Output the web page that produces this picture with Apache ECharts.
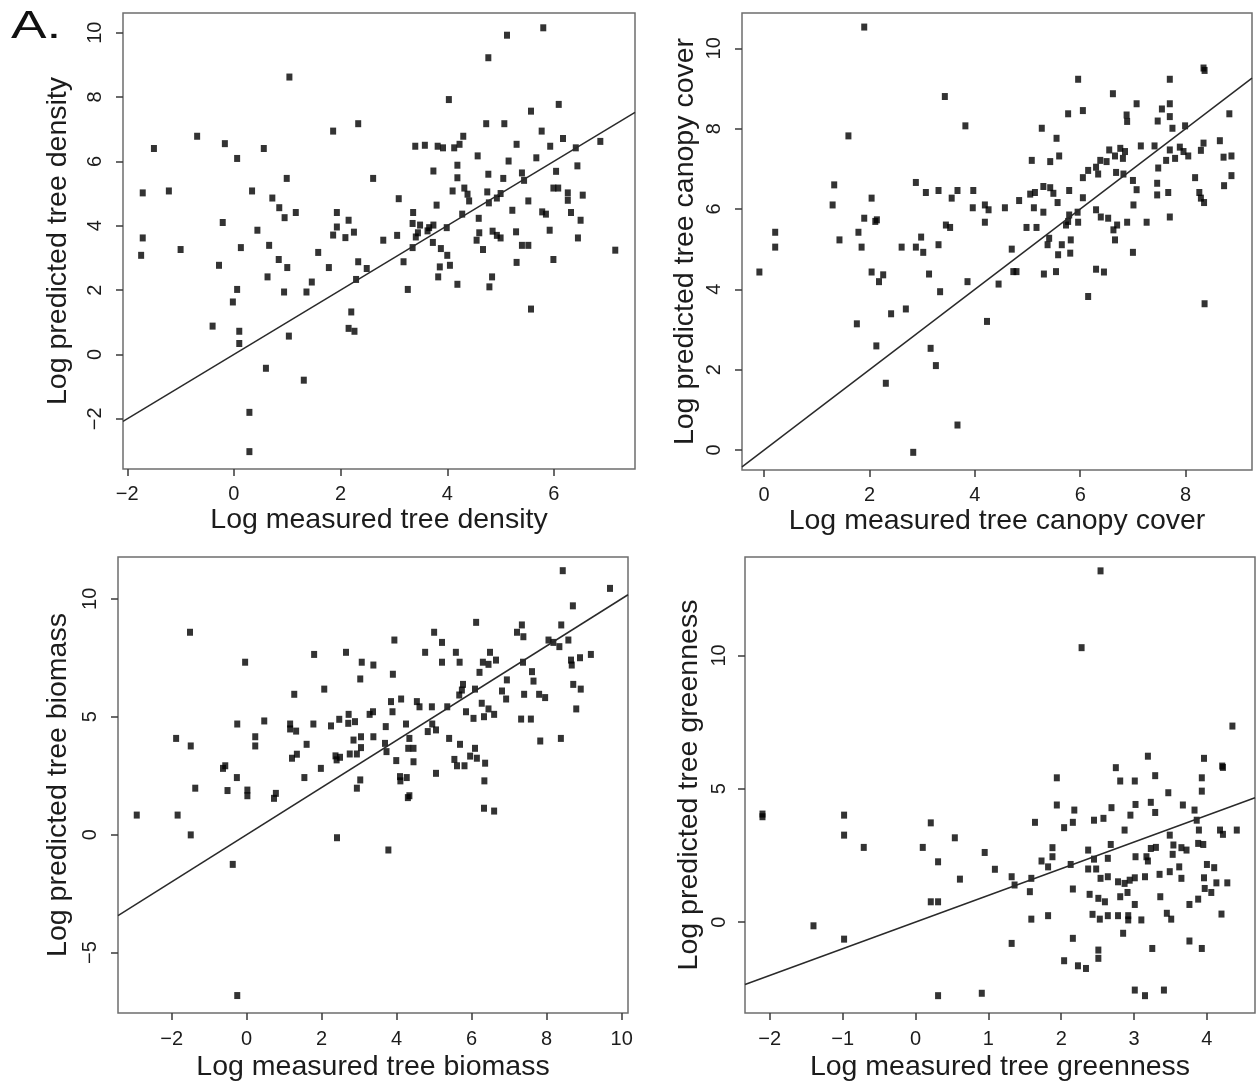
<!DOCTYPE html>
<html>
<head>
<meta charset="utf-8">
<title>Measured vs predicted tree attributes</title>
<script src="https://cdn.jsdelivr.net/npm/echarts@6/dist/echarts.min.js"></script>
<style>
  html, body { margin: 0; padding: 0; background: #fff; }
  #chart { width: 1257px; height: 1087px; }
</style>
</head>
<body>
<div id="chart"></div>
<script>
// Log measured (x) vs log predicted (y) values, one array per attribute.
const densityPoints = [
  [1.04,8.62],[2.33,7.17],[1.86,6.94],[-0.69,6.78],[-1.5,6.40],[-0.17,6.55],[0.06,6.09],[0.56,6.40],
  [2.61,5.47],[0.99,5.47],[-1.71,5.02],[-1.22,5.08],[0.34,5.08],[0.72,4.86],[0.85,4.56],[0.95,4.25],
  [1.16,4.41],[1.93,4.41],[2.15,4.17],[1.93,3.96],[1.86,3.71],[2.09,3.63],[2.25,3.80],[-0.21,4.10],
  [0.44,3.86],[-1.71,3.62],[-1.74,3.08],[-1.0,3.26],[0.13,3.32],[0.66,3.39],[-0.28,2.77],[0.84,2.95],
  [1.0,2.70],[1.58,3.17],[1.78,2.70],[2.33,2.88],[2.49,2.67],[2.29,2.33],[0.63,2.41],[1.46,2.25],
  [1.36,1.94],[0.94,1.94],[0.06,2.02],[-0.02,1.63],[-0.40,0.88],[0.10,0.72],[0.10,0.34],[1.03,0.57],
  [2.2,1.32],[2.15,0.81],[2.26,0.72],[0.60,-0.43],[1.31,-0.80],[0.29,-1.80],[0.29,-3.02],
  [5.80,10.15],[5.12,9.92],[4.77,9.22],[4.03,7.92],[5.57,7.56],[6.09,7.77],[4.73,7.17],[5.07,7.17],
  [5.77,6.94],[6.17,6.71],[6.87,6.62],[4.30,6.78],[4.23,6.53],[4.13,6.42],[3.92,6.42],[3.82,6.47],
  [3.58,6.50],[3.40,6.47],[5.30,6.53],[5.93,6.47],[6.41,6.42],[4.57,6.17],[5.15,6.01],[5.67,6.11],
  [6.44,5.86],[4.19,5.88],[3.74,5.70],[4.77,5.60],[4.19,5.49],[5.05,5.47],[5.40,5.64],[5.44,5.41],
  [6.04,5.69],[4.10,5.08],[4.32,5.17],[4.38,4.98],[4.41,4.77],[4.75,5.05],[4.78,4.71],[4.93,4.86],
  [5.0,5.0],[5.99,5.17],[6.08,5.17],[6.26,5.02],[6.26,4.79],[6.54,4.95],[3.09,4.84],[3.80,4.64],
  [5.52,4.77],[3.36,4.41],[4.28,4.36],[4.59,4.23],[5.22,4.48],[5.78,4.43],[5.85,4.36],[6.32,4.41],
  [6.50,4.17],[3.35,4.07],[3.49,4.02],[3.66,3.94],[3.74,4.02],[3.99,3.94],[3.45,3.78],[3.63,3.84],
  [4.60,3.78],[4.55,3.55],[4.85,3.83],[4.93,3.70],[5.0,3.62],[5.29,3.81],[5.92,3.86],[6.45,3.62],
  [2.80,3.55],[3.06,3.70],[3.41,3.65],[3.73,3.48],[3.35,3.32],[3.88,3.29],[4.0,3.08],[4.67,3.26],
  [5.40,3.39],[5.52,3.39],[4.05,2.77],[3.18,2.88],[5.30,2.86],[5.99,2.95],[7.15,3.24],[3.86,2.72],
  [3.83,2.41],[4.19,2.18],[4.84,2.41],[4.79,2.10],[3.26,2.02],[5.57,1.41]
];

const canopyPoints = [
  [1.90,10.53],[3.43,8.80],[3.82,8.07],[1.60,7.82],[2.88,6.66],[1.33,6.60],[3.07,6.41],[3.31,6.46],
  [3.67,6.46],[3.97,6.46],[3.56,6.27],[2.04,6.27],[1.30,6.10],[3.96,6.03],[4.19,6.10],[4.26,5.98],
  [1.90,5.77],[2.11,5.69],[2.14,5.73],[3.45,5.60],[3.53,5.54],[4.19,5.67],[0.21,5.42],[0.21,5.05],
  [1.43,5.23],[1.79,5.42],[1.85,5.05],[2.61,5.05],[2.88,5.05],[2.98,5.30],[3.02,4.92],[3.31,5.11],
  [-0.09,4.43],[2.04,4.43],[2.26,4.36],[2.18,4.19],[3.13,4.38],[3.86,4.19],[4.45,4.13],[3.34,3.94],
  [2.41,3.39],[2.69,3.51],[1.76,3.14],[4.23,3.20],[2.13,2.59],[3.16,2.53],[3.26,2.10],[2.31,1.66],
  [3.67,0.62],[2.83,-0.06],
  [5.96,9.23],[7.70,9.23],[8.34,9.51],[8.36,9.45],[6.62,8.87],[7.07,8.62],[7.55,8.49],[7.70,8.62],
  [5.77,8.37],[6.05,8.45],[6.88,8.34],[6.89,8.18],[7.47,8.19],[7.70,8.30],[7.75,8.01],[7.99,8.07],
  [8.83,8.37],[5.27,8.01],[5.55,7.76],[8.65,7.70],[8.34,7.64],[8.29,7.46],[8.87,7.32],[8.72,7.29],
  [7.15,7.57],[7.41,7.57],[7.70,7.47],[7.89,7.54],[7.96,7.43],[8.05,7.32],[7.80,7.26],[7.63,7.21],
  [5.60,7.32],[5.43,7.18],[5.08,7.21],[6.55,7.47],[6.76,7.51],[6.85,7.43],[6.81,7.26],[6.66,7.32],
  [6.50,7.18],[6.38,7.21],[6.30,7.04],[6.15,6.96],[6.34,6.87],[6.68,6.91],[6.82,6.87],[6.05,6.78],
  [7.48,7.02],[8.18,6.78],[8.87,6.83],[8.73,6.58],[7.0,6.71],[7.07,6.48],[7.46,6.64],[7.46,6.35],
  [7.67,6.41],[8.26,6.41],[8.29,6.27],[8.35,6.16],[5.30,6.56],[5.43,6.53],[5.49,6.39],[5.57,6.16],
  [5.79,6.46],[5.05,6.37],[5.14,6.41],[4.84,6.21],[4.57,6.03],[5.12,6.03],[5.30,5.92],[6.05,6.28],
  [7.01,6.10],[6.30,5.98],[5.95,5.92],[5.79,5.85],[5.96,5.67],[5.77,5.69],[5.73,5.60],[6.39,5.80],
  [6.53,5.77],[6.70,5.60],[6.89,5.67],[7.26,5.67],[7.70,5.80],[4.98,5.54],[5.17,5.54],[6.63,5.48],
  [6.66,5.23],[5.41,5.27],[5.38,5.11],[5.65,5.11],[5.82,5.23],[5.58,4.86],[5.81,4.90],[4.70,5.0],
  [7.0,4.92],[4.73,4.44],[4.79,4.44],[5.31,4.38],[5.54,4.44],[6.30,4.50],[6.45,4.43],[6.15,3.82],
  [8.36,3.64]
];

const biomassPoints = [
  [-1.51,8.58],[-0.04,7.31],[1.80,7.64],[2.65,7.73],[3.07,7.31],[3.03,6.60],[1.27,5.95],[2.07,6.17],
  [0.47,4.82],[-0.25,4.69],[1.16,4.69],[1.16,4.48],[1.32,4.39],[1.78,4.69],[2.25,4.61],[2.47,4.89],
  [2.72,5.10],[2.71,4.72],[2.89,4.79],[3.28,5.10],[-1.88,4.08],[-1.49,3.76],[0.23,4.15],[0.23,3.76],
  [1.60,3.83],[2.85,4.01],[3.05,4.15],[3.05,3.69],[1.34,3.41],[1.21,3.24],[2.37,3.34],[2.49,3.28],
  [2.75,3.42],[2.94,3.42],[-0.57,2.92],[-0.63,2.81],[1.98,2.81],[2.40,3.17],[-0.26,2.42],[1.54,2.42],
  [-1.37,1.97],[-0.51,1.87],[0.02,1.89],[0.02,1.65],[0.78,1.75],[0.73,1.54],[2.94,1.97],[3.03,2.32],
  [-2.93,0.83],[-1.84,0.83],[-1.49,-0.01],[2.41,-0.13],[-0.37,-1.26],[-0.25,-6.82],
  [8.43,11.19],[9.69,10.44],[8.70,9.70],[6.12,9.00],[8.39,8.89],[7.34,8.89],[7.21,8.58],[7.38,8.39],
  [5.0,8.58],[3.94,8.25],[5.21,8.15],[8.05,8.25],[8.18,8.15],[8.34,7.97],[8.58,8.25],[4.76,7.73],
  [5.58,7.73],[5.21,7.31],[5.68,7.31],[6.30,7.31],[6.49,7.73],[6.45,7.22],[6.65,7.40],[6.21,6.88],
  [8.65,7.40],[8.67,7.19],[8.89,7.50],[9.18,7.64],[3.38,7.19],[3.90,6.80],[6.94,6.56],[7.37,7.31],
  [7.61,6.91],[7.65,6.51],[8.71,6.37],[8.91,6.17],[8.79,5.33],[5.77,6.37],[5.74,6.13],[5.67,5.92],
  [6.09,6.17],[6.81,6.09],[6.92,5.75],[7.40,5.95],[7.80,5.95],[7.96,5.81],[3.85,5.64],[4.12,5.75],
  [4.54,5.64],[4.61,5.42],[4.94,5.42],[5.35,5.42],[3.89,5.21],[3.37,5.21],[5.85,5.21],[6.05,4.93],
  [6.33,5.0],[6.27,5.57],[6.45,5.33],[6.60,5.10],[7.32,4.90],[7.58,4.90],[3.71,4.58],[4.25,4.69],
  [4.95,4.69],[5.05,4.44],[4.83,4.37],[4.34,4.08],[3.38,4.15],[5.40,4.08],[7.83,3.97],[8.38,4.08],
  [3.69,3.87],[3.73,3.52],[4.31,3.66],[4.45,3.66],[5.69,3.83],[6.09,3.66],[5.96,3.33],[6.14,3.24],
  [6.36,3.03],[5.54,3.19],[5.61,2.92],[5.81,2.92],[3.99,3.14],[4.45,3.09],[5.05,2.60],[4.09,2.46],
  [4.27,2.42],[4.10,2.28],[6.34,2.28],[4.34,1.65],[4.30,1.57],[6.33,1.12],[6.60,1.0],[3.78,-0.65]
];

const greennessPoints = [
  [-2.10,3.95],[-2.10,4.05],[-0.98,4.01],[-0.98,3.26],[-0.71,2.80],[-1.40,-0.14],[-0.98,-0.64],
  [0.21,3.72],[0.10,2.80],[0.31,2.26],[0.54,3.16],[0.61,1.61],[0.95,2.61],[1.09,1.98],[0.21,0.76],
  [0.31,0.76],[0.31,-2.76],[0.91,-2.67],
  [2.54,13.17],[2.28,10.29],[4.35,7.35],[3.19,6.22],[3.96,6.14],[2.75,5.79],[1.94,5.41],[2.81,5.29],
  [3.01,5.29],[3.29,5.49],[3.93,5.41],[3.93,4.91],[4.21,5.85],[4.22,5.80],[3.47,4.85],[1.94,4.39],
  [2.18,4.20],[2.69,4.29],[3.02,4.41],[3.23,4.49],[3.29,4.11],[3.67,4.39],[3.83,4.20],[1.64,3.74],
  [2.16,3.74],[2.04,3.54],[2.45,3.82],[2.58,3.89],[2.95,4.01],[2.87,3.45],[3.86,3.82],[3.89,3.45],
  [4.18,3.45],[4.22,3.29],[4.41,3.45],[3.49,3.26],[3.88,2.95],[3.95,2.91],[1.88,2.79],[1.88,2.45],
  [2.37,2.70],[2.68,2.91],[2.64,2.39],[3.02,2.45],[3.17,2.45],[3.23,2.76],[3.30,2.80],[3.54,2.89],
  [3.53,2.54],[3.65,2.79],[3.72,2.70],[3.19,2.29],[1.73,2.29],[1.82,2.07],[2.13,2.16],[2.37,1.99],
  [2.48,1.99],[2.45,2.36],[4.0,2.16],[4.10,2.04],[3.62,2.07],[1.32,1.70],[1.36,1.39],[1.59,1.64],
  [1.57,1.14],[2.54,1.64],[2.64,1.70],[2.78,1.51],[2.87,1.45],[2.94,1.57],[3.01,1.66],[3.15,1.70],
  [3.35,1.79],[3.49,1.89],[3.65,1.64],[3.96,1.66],[3.97,1.26],[4.13,1.47],[4.28,1.47],[4.06,1.11],
  [2.16,1.24],[2.39,1.04],[2.51,0.89],[2.60,0.76],[2.81,0.95],[2.91,1.11],[3.01,0.66],[3.36,0.95],
  [3.76,0.66],[3.88,0.86],[2.43,0.29],[2.53,0.11],[2.64,0.24],[2.78,0.24],[2.92,0.24],[2.92,0.08],
  [3.10,0.08],[3.45,0.33],[3.51,0.11],[4.20,0.30],[1.59,0.11],[1.82,0.24],[2.85,-0.42],[1.32,-0.80],
  [2.16,-0.61],[3.25,-0.99],[3.76,-0.71],[3.93,-0.99],[2.04,-1.45],[2.23,-1.64],[2.34,-1.74],
  [2.51,-1.05],[2.51,-1.36],[3.01,-2.55],[3.15,-2.76],[3.41,-2.55]
];

// Tick values for each axis
const densityTicksX = [-2, 0, 2, 4, 6];
const densityTicksY = [-2, 0, 2, 4, 6, 8, 10];
const canopyTicksX = [0, 2, 4, 6, 8];
const canopyTicksY = [0, 2, 4, 6, 8, 10];
const biomassTicksX = [-2, 0, 2, 4, 6, 8, 10];
const biomassTicksY = [-5, 0, 5, 10];
const greennessTicksX = [-2, -1, 0, 1, 2, 3, 4];
const greennessTicksY = [0, 5, 10];

// Axis titles
const measuredTitles = ['Log measured tree density', 'Log measured tree canopy cover',
                        'Log measured tree biomass', 'Log measured tree greenness'];
const predictedTitles = ['Log predicted tree density', 'Log predicted tree canopy cover',
                         'Log predicted tree biomass', 'Log predicted tree greenness'];

// Panel geometry and axis extents
const panels = [
  { points: densityPoints, tx: densityTicksX, ty: densityTicksY,
    rect: [123, 13, 512, 456], xr: [-2.08, 7.52], yr: [-3.56, 10.61],
    xGap: 37, xLab: 15, yGap: 50, yLab: 18 },
  { points: canopyPoints, tx: canopyTicksX, ty: canopyTicksY,
    rect: [742, 13, 510, 457], xr: [-0.42, 9.26], yr: [-0.50, 10.88],
    xGap: 37, xLab: 15, yGap: 42, yLab: 18 },
  { points: biomassPoints, tx: biomassTicksX, ty: biomassTicksY,
    rect: [118, 557, 510, 456], xr: [-3.43, 10.17], yr: [-7.56, 11.77],
    xGap: 40, xLab: 16, yGap: 45, yLab: 18 },
  { points: greennessPoints, tx: greennessTicksX, ty: greennessTicksY,
    rect: [745, 557, 510, 456], xr: [-2.34, 4.66], yr: [-3.41, 13.69],
    xGap: 40, xLab: 16, yGap: 41, yLab: 16 }
];

const FONT = 'Liberation Sans, Arial, Helvetica, sans-serif';
const TEXT = '#1c1c1c';
const minus = v => String(v).replace('-', '\u2212');

const grid = [], xAxis = [], yAxis = [], series = [];

panels.forEach((p, i) => {
  grid.push({
    left: p.rect[0], top: p.rect[1], width: p.rect[2], height: p.rect[3],
    show: true, borderColor: '#6e6e6e', borderWidth: 1.5, containLabel: false
  });
  xAxis.push({
    type: 'value', gridIndex: i, min: p.xr[0], max: p.xr[1], position: 'bottom',
    name: measuredTitles[i], nameLocation: 'middle', nameGap: p.xGap,
    nameTextStyle: { fontFamily: FONT, fontSize: 28.5, color: TEXT },
    axisLine: { show: false, onZero: false },
    axisTick: { show: true, inside: false, length: 7, customValues: p.tx,
                lineStyle: { color: '#3a3a3a', width: 1.5 } },
    axisLabel: { customValues: p.tx, margin: p.xLab, formatter: minus,
                 fontFamily: FONT, fontSize: 20, color: TEXT },
    splitLine: { show: false }
  });
  yAxis.push({
    type: 'value', gridIndex: i, min: p.yr[0], max: p.yr[1], position: 'left',
    name: predictedTitles[i], nameLocation: 'middle', nameGap: p.yGap,
    nameTextStyle: { fontFamily: FONT, fontSize: 28.5, color: TEXT },
    axisLine: { show: false, onZero: false },
    axisTick: { show: true, inside: false, length: 7, customValues: p.ty,
                lineStyle: { color: '#3a3a3a', width: 1.5 } },
    axisLabel: { customValues: p.ty, rotate: 90, margin: p.yLab, formatter: minus,
                 fontFamily: FONT, fontSize: 20, color: TEXT },
    splitLine: { show: false }
  });
  series.push({
    type: 'scatter', xAxisIndex: i, yAxisIndex: i, data: p.points,
    symbol: 'rect', symbolSize: [6, 7],
    itemStyle: { color: '#000' }, silent: true
  });
  // 1:1 reference line across the measured range
  series.push({
    type: 'line', xAxisIndex: i, yAxisIndex: i,
    data: [[p.xr[0], p.xr[0]], [p.xr[1], p.xr[1]]],
    showSymbol: false, clip: true, silent: true,
    lineStyle: { color: '#2a2a2a', width: 1.5 }
  });
});

const chart = echarts.init(document.getElementById('chart'), null, { renderer: 'canvas' });
chart.setOption({
  animation: false,
  backgroundColor: '#ffffff',
  grid, xAxis, yAxis, series,
  graphic: [{
    type: 'text', left: 11, top: 9, scaleX: 1.4,
    style: { text: 'A.', font: '38px ' + FONT, fill: '#111' }
  }]
});
</script>
</body>
</html>
